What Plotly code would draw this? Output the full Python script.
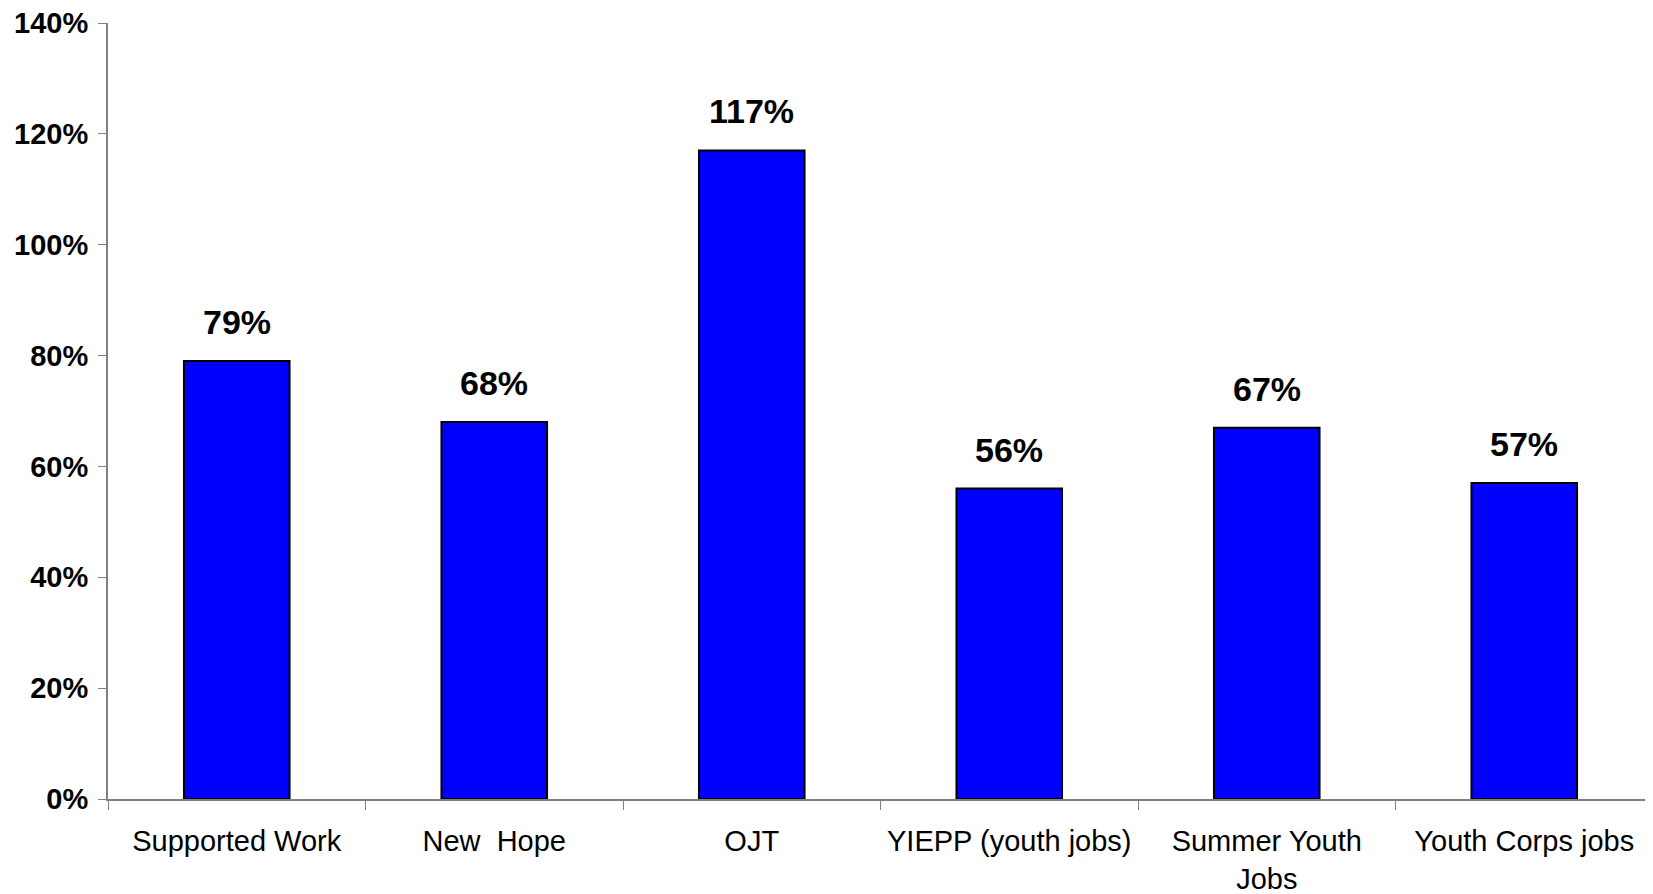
import plotly.graph_objects as go

programs = ["Supported Work", "New  Hope", "OJT", "YIEPP (youth jobs)",
            "Summer Youth<br>Jobs", "Youth Corps jobs"]
values = [0.79, 0.68, 1.17, 0.56, 0.67, 0.57]
labels = ["79%", "68%", "117%", "56%", "67%", "57%"]

FONT = "Arial, Liberation Sans, sans-serif"
AXIS_GREY = "#808080"

fig = go.Figure(go.Bar(
    x=programs, y=values,
    width=0.41,
    marker=dict(color="#0000FF", line=dict(color="black", width=2)),
    hoverinfo="skip",
))

for prog, val, lab in zip(programs, values, labels):
    fig.add_annotation(x=prog, y=val, text="<b>%s</b>" % lab, showarrow=False,
                       yanchor="bottom", yshift=18,
                       font=dict(family=FONT, size=34, color="black"))

# page body has an 8px margin, so the figure is sized to fit the window
fig.update_layout(
    width=1645, height=886,
    paper_bgcolor="white", plot_bgcolor="white",
    margin=dict(l=100, r=0, t=15, b=95),
    showlegend=False,
    font=dict(family=FONT, color="black"),
)
fig.update_xaxes(
    type="category", range=[-0.5, 5.5], automargin=False,
    showline=True, linecolor=AXIS_GREY, linewidth=2,
    ticks="outside", tickson="boundaries", ticklen=9, tickcolor=AXIS_GREY, tickwidth=1,
    showgrid=False, tickfont=dict(family=FONT, size=29, color="black"),
    ticklabelstandoff=15, ticklabeloverflow="allow",
)
fig.update_yaxes(
    range=[0, 1.4], dtick=0.2, tickformat=".0%", automargin=False,
    showline=True, linecolor=AXIS_GREY, linewidth=2,
    ticks="outside", ticklen=8, tickcolor=AXIS_GREY, tickwidth=1,
    showgrid=False, zeroline=False,
    tickfont=dict(family=FONT, size=29, color="black", weight="bold"),
    ticklabelstandoff=4, ticklabeloverflow="allow",
)

fig.write_html("out.html")
